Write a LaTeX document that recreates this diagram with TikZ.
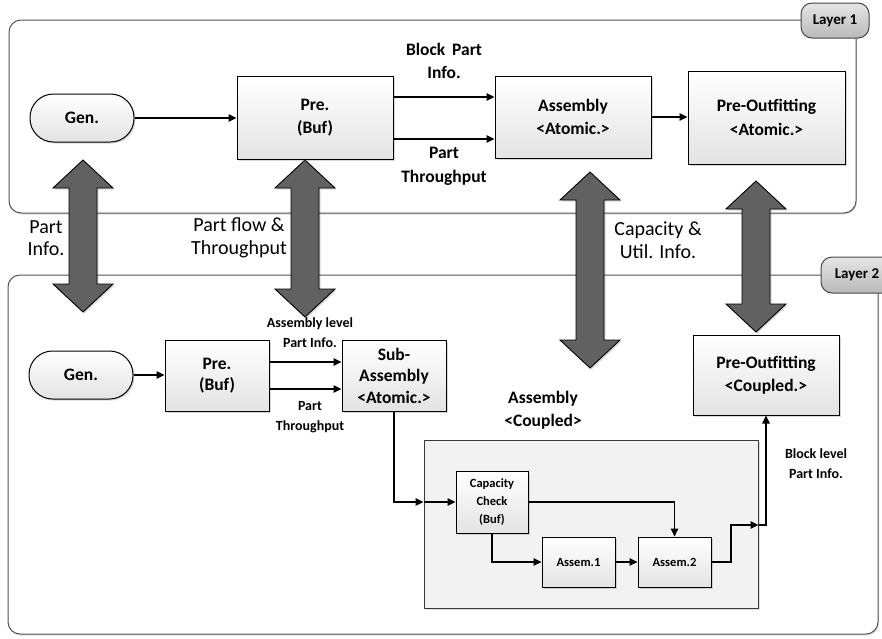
\documentclass[tikz,border=0pt]{standalone}
\usepackage{fontspec}
\setmainfont{Carlito}
\usetikzlibrary{arrows.meta,shadows,calc}

\newcommand\boxfont{\fontsize{17.5}{23.5}\selectfont\bfseries}
\newcommand\smallfont{\fontsize{14}{20}\selectfont\bfseries}
\newcommand\tinyfont{\fontsize{12.5}{18}\selectfont\bfseries}
\newcommand\flowfont{\fontsize{20}{22.5}\selectfont}
\newcommand\tabfont{\fontsize{15}{18}\selectfont\bfseries}

% double-headed block arrow: centre x, top tip y, bottom tip y
\newcommand\linkarrow[3]{%
  \draw[bigarrow] (#1,#2) -- (#1+30,#2+28) -- (#1+14,#2+28) -- (#1+14,#3-28)
    -- (#1+30,#3-28) -- (#1,#3) -- (#1-30,#3-28) -- (#1-14,#3-28)
    -- (#1-14,#2+28) -- (#1-30,#2+28) -- cycle;}

\tikzset{
  blk/.style={draw=black, line width=1pt, top color=white, bottom color=gray!22,
    drop shadow={opacity=0.3, shadow xshift=1.5pt, shadow yshift=-1.5pt},
    align=center, inner sep=0pt, font=\boxfont},
  pill/.style={blk, rounded corners=23.5pt, minimum width=104pt, minimum height=48pt},
  small/.style={blk, line width=0.9pt, font=\tinyfont},
  lbl/.style={align=center, inner sep=0pt, font=\boxfont},
  slbl/.style={align=center, inner sep=0pt, font=\smallfont},
  flbl/.style={align=center, inner sep=0pt, font=\flowfont},
  layer/.style={draw=gray!65!black, line width=1pt, rounded corners=12pt,
    drop shadow={opacity=0.25, shadow xshift=1pt, shadow yshift=-1.5pt}, fill=white},
  tab/.style={draw=gray!55!black, line width=1pt, rounded corners=11pt,
    top color=gray!20, bottom color=gray!55, inner sep=0pt, font=\tabfont},
  bigarrow/.style={fill=black!62, draw=black, line width=0.9pt,
    drop shadow={opacity=0.3, shadow xshift=1.5pt, shadow yshift=-1.5pt}},
  flow/.style={draw=black, line width=1.3pt, -{Triangle[length=8pt,width=7.5pt]}},
}

\begin{document}
\begin{tikzpicture}[x=1pt, y=-1pt]
  \useasboundingbox[fill=white] (0,0) rectangle (882,638);

  % ---------- layers ----------
  \node[layer, minimum width=847pt, minimum height=193pt] (L1) at (432.5,116.5) {};
  \node[layer, minimum width=870pt, minimum height=359pt] (L2) at (443,454.5) {};
  \node[tab, minimum width=68pt, minimum height=35pt] (t1) at (835,20.5) {Layer 1};
  \node[tab, minimum width=72pt, minimum height=36pt] (t2) at (857,275) {Layer 2};

  % ---------- links between the layers ----------
  \linkarrow{83}{160}{312}
  \linkarrow{305}{160}{317}
  \linkarrow{590}{172}{368}
  \linkarrow{756}{181}{332}

  \node[flbl] (li1) at (46,238) {Part\\Info.};
  \node[flbl] (li2) at (239,238) {Part flow \&\\Throughput};
  \node[flbl] (li3) at (658,240) {Capacity \&\\Util. Info.};

  % ---------- layer 1 ----------
  \node[pill] (gen1) at (82,118) {Gen.};
  \node[blk, minimum width=156pt, minimum height=83pt] (pre1) at (315,117.5) {Pre.\\(Buf)};
  \node[blk, minimum width=156pt, minimum height=82pt] (asm1) at (573,117) {Assembly\\<Atomic.>};
  \node[blk, minimum width=157pt, minimum height=93pt] (pout1) at (766.5,117.5) {Pre-Outfitting\\<Atomic.>};

  \draw[flow] (gen1.east) -- (gen1.east -| pre1.west);
  \draw[flow] ([yshift=20.5pt]pre1.east) -- ([yshift=20.5pt]pre1.east -| asm1.west);
  \draw[flow] ([yshift=-21.5pt]pre1.east) -- ([yshift=-21.5pt]pre1.east -| asm1.west);
  \draw[flow] (asm1.east) -- (asm1.east -| pout1.west);

  \node[lbl] (bpi) at (444,61) {Block\, Part\\Info.};
  \node[lbl] (pt1) at (444,166.5) {Part\\Throughput};

  % ---------- layer 2 ----------
  \node[pill] (gen2) at (81,375) {Gen.};
  \node[blk, minimum width=104pt, minimum height=71pt, font=\fontsize{17.5}{21}\selectfont\bfseries]
    (pre2) at (217,375.5) {Pre.\\(Buf)};
  \node[blk, minimum width=104pt, minimum height=71pt, font=\fontsize{17.5}{21.5}\selectfont\bfseries]
    (sub2) at (394,375.5) {Sub-\\Assembly\\<Atomic.>};
  \node[blk, minimum width=146pt, minimum height=80pt] (pout2) at (766,375) {Pre-Outfitting\\<Coupled.>};

  \draw[flow] (gen2.east) -- (gen2.east -| pre2.west);
  \draw[flow] ([yshift=13.5pt]pre2.east) -- ([yshift=13.5pt]pre2.east -| sub2.west);
  \draw[flow] ([yshift=-13.5pt]pre2.east) -- ([yshift=-13.5pt]pre2.east -| sub2.west);

  \node[slbl] (alp) at (310,333) {Assembly level\\Part Info.};
  \node[slbl] (pt2) at (310,417) {Part\\Throughput};
  \node[lbl] (acl) at (543,410) {Assembly\\<Coupled>};
  \node[slbl] (blp) at (816,464) {Block level\\Part Info.};

  % coupled assembly model
  \node[draw=gray!45!black, line width=1pt, fill=gray!10, minimum width=334pt, minimum height=168pt,
    drop shadow={opacity=0.25, shadow xshift=1.5pt, shadow yshift=-1.5pt}] (cpl) at (591,524) {};
  \node[small, minimum width=72pt, minimum height=62pt] (cap) at (492,502) {Capacity\\Check\\(Buf)};
  \node[small, minimum width=73pt, minimum height=50pt] (as1) at (578.5,562) {Assem.1};
  \node[small, minimum width=73pt, minimum height=50pt] (as2) at (674.5,562) {Assem.2};

  \coordinate (inport) at (cpl.west |- cap.west);
  \coordinate (bend) at (731,525);
  \coordinate (outport) at (cpl.east |- bend);

  \draw[flow] (sub2.south) |- (inport);
  \draw[flow] (inport) -- (cap.west);
  \draw[flow] (cap.east) -| (as2.north);
  \draw[flow] (cap.south) |- (as1.west);
  \draw[flow] (as1.east) -- (as2.west);
  \draw[flow] (as2.east) -| (bend) -- (outport);
  \draw[flow] (outport) -| (pout2.south);
\end{tikzpicture}
\end{document}
